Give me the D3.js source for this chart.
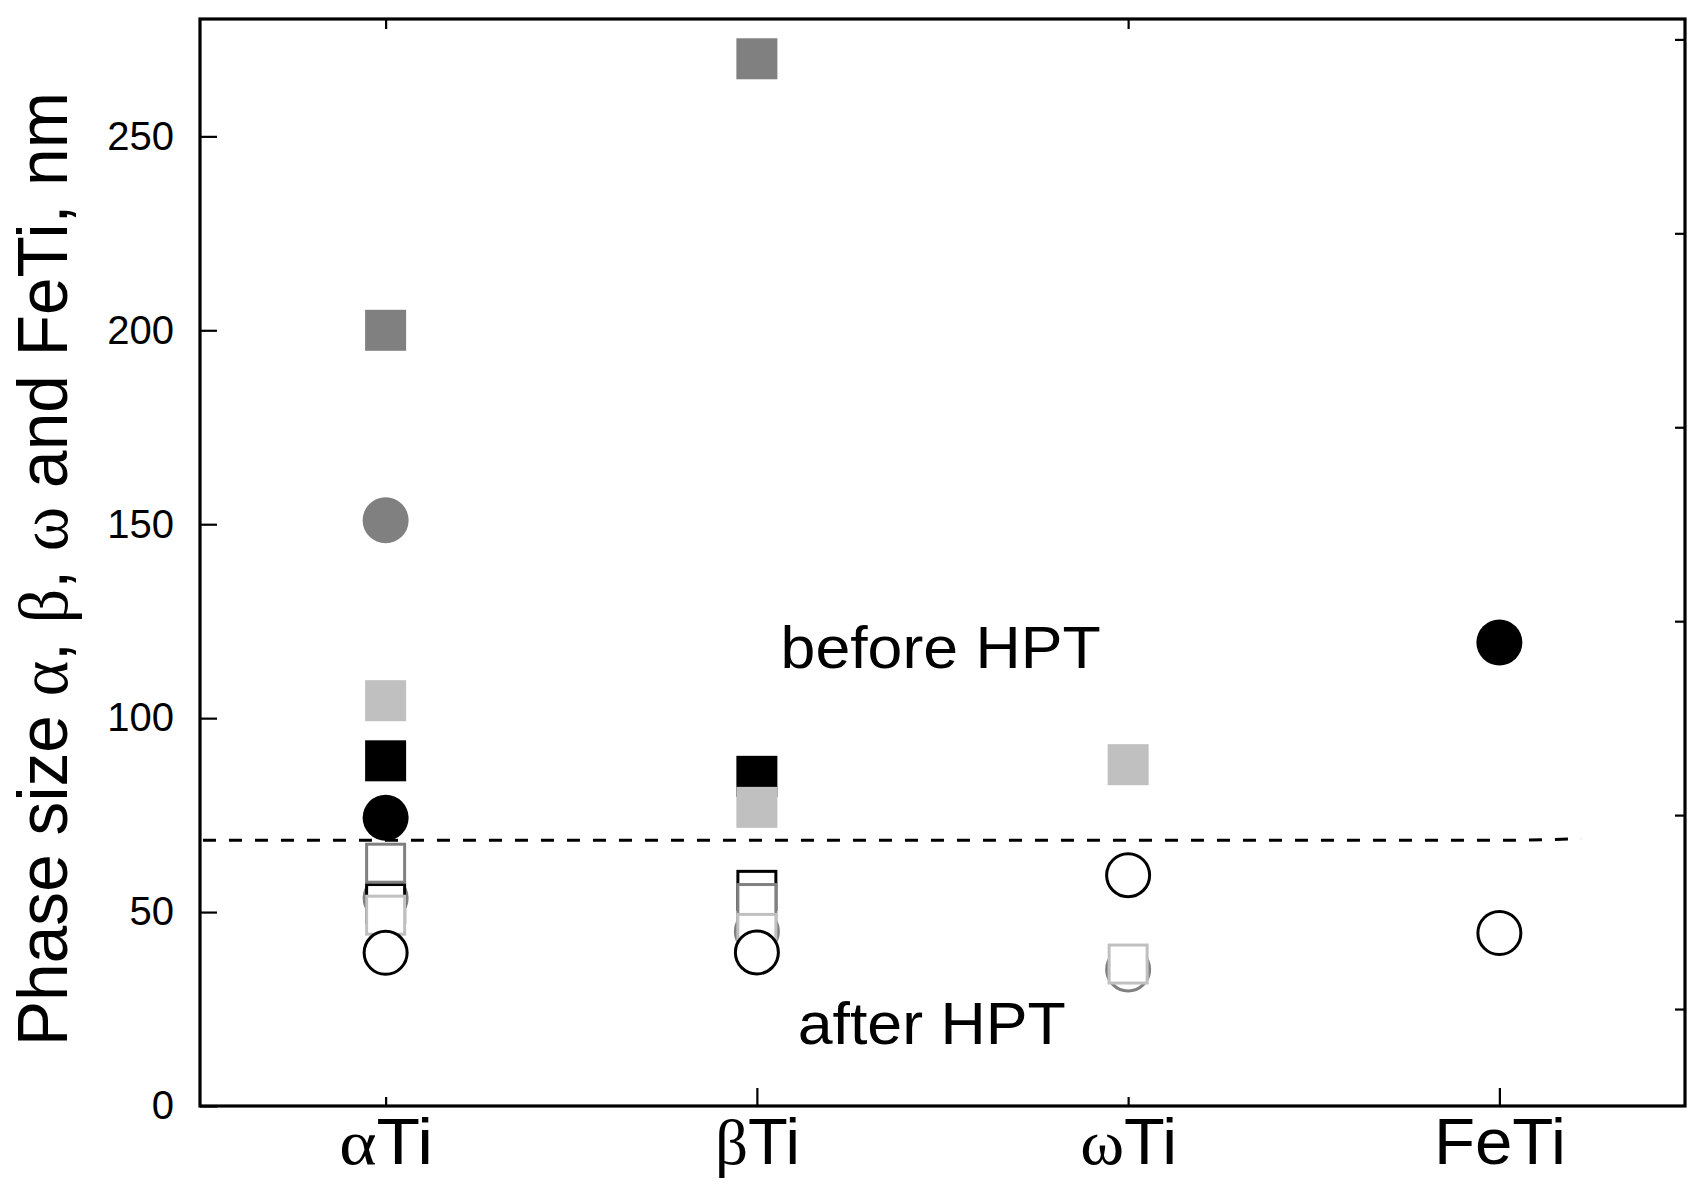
<!DOCTYPE html>
<html>
<head>
<meta charset="utf-8">
<script src="https://cdn.jsdelivr.net/npm/d3@7"></script>
<style>
  html, body { margin: 0; padding: 0; background: #fff; }
  svg { display: block; }
</style>
</head>
<body>
<svg id="chart" width="1695" height="1190"></svg>
<script>
// ---------------- data ----------------
const categories = ["αTi", "βTi", "ωTi", "FeTi"];
const categoryGreek = ["α", "β", "ω", ""];
const categoryRest = ["Ti", "Ti", "Ti", "FeTi"];
const categoryLabelWidth = [94, 85, 97, 132];
const xPositions = [1, 2, 3, 4];

// before HPT (filled symbols)
const filledDarkGraySquare  = [200, 270, null, null];
const filledGrayCircle      = [151, null, null, null];
const filledBlackSquare     = [89, 85, null, null];
const filledLightGraySquare = [104.5, 77, 88, null];
const filledBlackCircle     = [74.3, null, null, 119.5];

// after HPT (open symbols)
const openGrayCircle      = [53.6, 45, 35.2, null];
const openBlackSquare     = [52.2, 55.6, null, null];
const openGraySquare      = [62.6, 52.2, null, null];
const openLightGraySquare = [49.2, 44.5, 36.6, null];
const openBlackCircle     = [39.5, 39.6, 59.5, 44.6];

// dashed separation line
const dashX = [0.508, 4.05, 4.22];
const dashY = [68.5, 68.5, 68.9];

// tick values
const yTicksLeft  = [0, 50, 100, 150, 200, 250];
const yTicksRight = [25, 75, 125, 175, 225, 275];
const xTicksMajor = [2, 4];
const xTicksMinor = [1, 3];

// annotations
const annotationText = ["before HPT", "after HPT"];
const annotationX = [2.064, 2.11];
const annotationY = [113.0, 16.0];
const annotationWidth = [320, 268];

// ---------------- layout ----------------
const svg = d3.select("#chart");
const plotLeft = 200, plotRight = 1685, plotTop = 19, plotBottom = 1106;

const x = d3.scaleLinear().domain([0.5, 4.5]).range([plotLeft, plotRight]);
const y = d3.scaleLinear().domain([0, 280]).range([plotBottom, plotTop + 1]);

const BLACK = "#000000", GRAY = "#808080", LIGHT = "#c0c0c0";

// series (drawing order matters for overlaps)
const series = [
  { values: filledDarkGraySquare,  shape: "square", filled: true,  color: GRAY },
  { values: filledGrayCircle,      shape: "circle", filled: true,  color: GRAY },
  { values: filledBlackSquare,     shape: "square", filled: true,  color: BLACK },
  { values: filledLightGraySquare, shape: "square", filled: true,  color: LIGHT },
  { values: filledBlackCircle,     shape: "circle", filled: true,  color: BLACK },
  { values: openGrayCircle,        shape: "circle", filled: false, color: GRAY },
  { values: openBlackSquare,       shape: "square", filled: false, color: BLACK },
  { values: openGraySquare,        shape: "square", filled: false, color: GRAY },
  { values: openLightGraySquare,   shape: "square", filled: false, color: LIGHT },
  { values: openBlackCircle,       shape: "circle", filled: false, color: BLACK }
];

// ---------------- axes ----------------
const fontSans = "'Liberation Sans', Arial, sans-serif";
const fontSerif = "'Liberation Serif', 'Times New Roman', serif";

// frame
svg.append("rect")
  .attr("x", plotLeft).attr("y", plotTop)
  .attr("width", plotRight - plotLeft).attr("height", plotBottom - plotTop)
  .attr("fill", "none").attr("stroke", "#000").attr("stroke-width", 3.2);

function styleAxis(g) {
  g.select(".domain").remove();
  g.selectAll(".tick line").attr("stroke", "#000").attr("stroke-width", 2.2);
}

// left axis: ticks + labels
const gLeft = svg.append("g").attr("transform", `translate(${plotLeft},0)`)
  .call(d3.axisLeft(y).tickValues(yTicksLeft).tickSizeInner(-17).tickSizeOuter(0).tickPadding(26));
styleAxis(gLeft);
gLeft.selectAll(".tick text")
  .attr("x", -26)
  .attr("font-family", fontSans).attr("font-size", 40).attr("fill", "#000");

// right axis ticks
const gRight = svg.append("g").attr("transform", `translate(${plotRight},0)`)
  .call(d3.axisRight(y).tickValues(yTicksRight).tickSizeInner(-10).tickSizeOuter(0).tickFormat(""));
styleAxis(gRight);

// top axis ticks
const gTopAx = svg.append("g").attr("transform", `translate(0,${plotTop})`)
  .call(d3.axisTop(x).tickValues(xTicksMinor).tickSizeInner(-10).tickSizeOuter(0).tickFormat(""));
styleAxis(gTopAx);

// bottom axis ticks (major long, minor short)
const gBotMaj = svg.append("g").attr("transform", `translate(0,${plotBottom})`)
  .call(d3.axisBottom(x).tickValues(xTicksMajor).tickSizeInner(-18).tickSizeOuter(0).tickFormat(""));
styleAxis(gBotMaj);
const gBotMin = svg.append("g").attr("transform", `translate(0,${plotBottom})`)
  .call(d3.axisBottom(x).tickValues(xTicksMinor).tickSizeInner(-9).tickSizeOuter(0).tickFormat(""));
styleAxis(gBotMin);

// bottom labels
const gBotLab = svg.append("g").attr("transform", `translate(0,${plotBottom})`)
  .call(d3.axisBottom(x).tickValues(xPositions).tickSize(0).tickFormat((d, i) => categories[i]));
gBotLab.select(".domain").remove();
gBotLab.selectAll(".tick text").each(function(d, i) {
  const t = d3.select(this);
  t.text(null)
    .attr("y", 58).attr("dy", null)
    .attr("font-size", 64).attr("fill", "#000")
    .attr("text-anchor", "middle")
    .attr("textLength", categoryLabelWidth[i])
    .attr("lengthAdjust", "spacingAndGlyphs");
  if (categoryGreek[i]) {
    t.append("tspan").attr("font-family", fontSerif).text(categoryGreek[i]);
  }
  t.append("tspan").attr("font-family", fontSans).text(categoryRest[i]);
});

// y title
const title = svg.append("text")
  .attr("transform", "translate(67,569) rotate(-90)")
  .attr("text-anchor", "middle")
  .attr("font-size", 70)
  .attr("fill", "#000")
  .attr("textLength", 954)
  .attr("lengthAdjust", "spacingAndGlyphs");
const titleParts = [
  ["Phase size ", fontSans], ["α", fontSerif], [", ", fontSans], ["β", fontSerif],
  [", ", fontSans], ["ω", fontSerif], [" and FeTi, nm", fontSans]
];
titleParts.forEach(p => title.append("tspan").attr("font-family", p[1]).text(p[0]));

// ---------------- dashed line ----------------
const dashLine = d3.line().x(d => x(d[0])).y(d => y(d[1]));
svg.append("path")
  .datum(dashX.map((v, i) => [v, dashY[i]]))
  .attr("d", dashLine)
  .attr("fill", "none").attr("stroke", "#000")
  .attr("stroke-width", 3).attr("stroke-dasharray", "13,13");

// ---------------- symbols ----------------
const SQ = 41, CD = 46, SW = 3;
const gPts = svg.append("g");
series.forEach(s => {
  const pts = s.values.map((v, i) => ({ x: xPositions[i], v })).filter(p => p.v !== null);
  if (s.shape === "square") {
    const side = s.filled ? SQ : SQ - SW;
    gPts.selectAll(null).data(pts).enter().append("rect")
      .attr("x", p => x(p.x) - side / 2)
      .attr("y", p => y(p.v) - side / 2)
      .attr("width", side).attr("height", side)
      .attr("fill", s.filled ? s.color : "#fff")
      .attr("stroke", s.filled ? "none" : s.color)
      .attr("stroke-width", s.filled ? 0 : SW);
  } else {
    const r = s.filled ? CD / 2 : (CD - SW) / 2;
    gPts.selectAll(null).data(pts).enter().append("circle")
      .attr("cx", p => x(p.x))
      .attr("cy", p => y(p.v))
      .attr("r", r)
      .attr("fill", s.filled ? s.color : "#fff")
      .attr("stroke", s.filled ? "none" : s.color)
      .attr("stroke-width", s.filled ? 0 : SW);
  }
});

// ---------------- annotations ----------------
svg.selectAll(null).data(annotationText).enter().append("text")
  .attr("x", (d, i) => x(annotationX[i]))
  .attr("y", (d, i) => y(annotationY[i]))
  .attr("font-family", fontSans).attr("font-size", 60).attr("fill", "#000")
  .attr("textLength", (d, i) => annotationWidth[i])
  .attr("lengthAdjust", "spacingAndGlyphs")
  .text(d => d);
</script>
</body>
</html>
